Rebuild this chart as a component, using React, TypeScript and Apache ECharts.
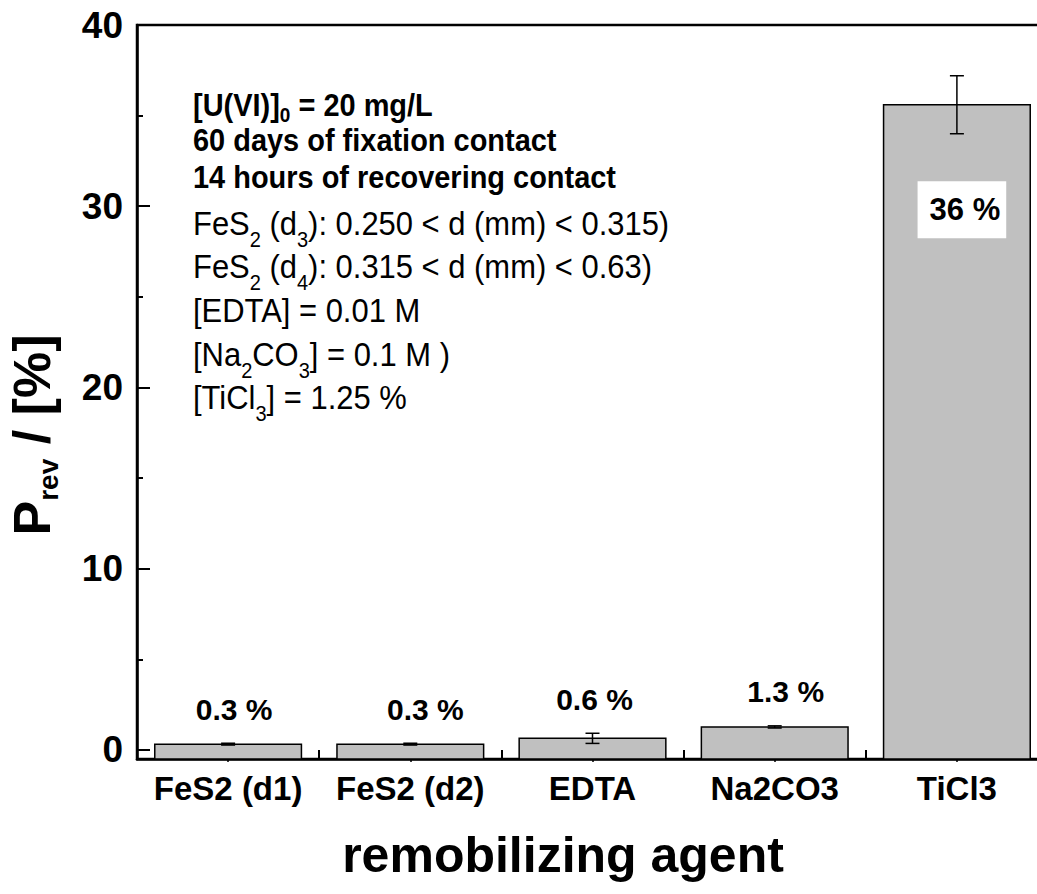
import React, { useEffect, useRef } from 'react';
import * as echarts from 'echarts';

// ---- data ----
const categories = ['FeS2 (d1)', 'FeS2 (d2)', 'EDTA', 'Na2CO3', 'TiCl3'];
const values = [0.32, 0.32, 0.64, 1.27, 35.6];
const errors = [0.05, 0.05, 0.28, 0.06, 1.6];
const yTickValues = [0, 10, 20, 30, 40];
const yMinorTickValues = [5, 15, 25, 35];
const yMin = -0.5;
const yMax = 40;
const xTitle = 'remobilizing agent';
const annotationBold = [
  '{b|[U(VI)]}{bs|0}{b| = 20 mg/L}',
  '{b|60 days of fixation contact}',
  '{b|14 hours of recovering contact}',
];
const annotationNormal = [
  '{n|FeS}{ns|2}{n| (d}{ns|3}{n|): 0.250 < d (mm) < 0.315)}',
  '{n|FeS}{ns|2}{n| (d}{ns|4}{n|): 0.315 < d (mm) < 0.63)}',
  '{n|[EDTA] = 0.01 M}',
  '{n|[Na}{ns|2}{n|CO}{ns|3}{n|] = 0.1 M )}',
  '{n|[TiCl}{ns|3}{n|] = 1.25 %}',
];

// ---- styles / layout ----
const FONT = 'Liberation Sans, Arial, Helvetica, sans-serif';
const labelNudge = [6, 15, 2, 11, 6];
const boldLineY = [104, 139, 176];
const normalLineY = [223, 266, 310, 354, 397];

export default function App() {
  const ref = useRef<HTMLDivElement>(null);

  useEffect(() => {
    const chart = echarts.init(ref.current as HTMLDivElement, null, { renderer: 'svg' });
    const data = categories.map((_, i) => [i, values[i], errors[i]]);

    const renderItem = (params: any, api: any) => {
      const i = api.value(0);
      const v = api.value(1);
      const e = api.value(2);
      const cs = params.coordSys;
      const baseY = cs.y + cs.height;
      const top = api.coord([i, v]);
      const cx = top[0];
      const bw = api.size([1, 0])[0] * 0.805;
      const hi = api.coord([i, v + e])[1];
      const lo = api.coord([i, v - e])[1];
      const cap = 7;
      const big = v >= 10;
      const txt = (big ? v.toFixed(0) : v.toFixed(1)) + ' %';
      const children: any[] = [
        {
          type: 'rect',
          shape: { x: cx - bw / 2, y: top[1], width: bw, height: baseY - top[1] },
          style: { fill: '#c0c0c0', stroke: '#000', lineWidth: 1.5 },
        },
        {
          type: 'line',
          shape: { x1: cx, y1: hi, x2: cx, y2: lo },
          style: { stroke: '#000', lineWidth: 1.5 },
        },
        {
          type: 'line',
          shape: { x1: cx - cap, y1: hi, x2: cx + cap, y2: hi },
          style: { stroke: '#000', lineWidth: 1.5 },
        },
        {
          type: 'line',
          shape: { x1: cx - cap, y1: lo, x2: cx + cap, y2: lo },
          style: { stroke: '#000', lineWidth: 1.5 },
        },
      ];
      if (big) {
        children.push({
          type: 'text',
          x: cx + 5,
          y: top[1] + 105,
          style: {
            text: txt,
            fontSize: 31,
            fontWeight: 'bold',
            fontFamily: FONT,
            fill: '#000',
            align: 'center',
            verticalAlign: 'middle',
            backgroundColor: '#fff',
            padding: [13, 6, 13, 12],
          },
        });
      } else {
        children.push({
          type: 'text',
          x: cx + labelNudge[params.dataIndex],
          y: hi - 34,
          style: {
            text: txt,
            fontSize: 30,
            fontWeight: 'bold',
            fontFamily: FONT,
            fill: '#000',
            align: 'center',
            verticalAlign: 'middle',
          },
        });
      }
      return { type: 'group', children };
    };

    const boldRich = {
      b: { fontSize: 32, fontWeight: 'bold', fontFamily: FONT, fill: '#000', lineHeight: 36, verticalAlign: 'middle' },
      bs: { fontSize: 21, fontWeight: 'bold', fontFamily: FONT, fill: '#000', lineHeight: 36, verticalAlign: 'middle', padding: [22, 0, 0, 0] },
    };
    const normalRich = {
      n: { fontSize: 34, fontFamily: FONT, fill: '#000', lineHeight: 38, verticalAlign: 'middle' },
      ns: { fontSize: 22, fontFamily: FONT, fill: '#000', lineHeight: 38, verticalAlign: 'middle', padding: [32, 0, 0, 0] },
    };

    const graphic: any[] = [
      ...annotationBold.map((t, k) => ({
        type: 'text',
        x: 193,
        y: boldLineY[k],
        scaleX: 0.905,
        style: { text: t, rich: boldRich, align: 'left', verticalAlign: 'middle', fill: '#000' },
      })),
      ...annotationNormal.map((t, k) => ({
        type: 'text',
        x: 193,
        y: normalLineY[k],
        scaleX: 0.91,
        style: { text: t, rich: normalRich, align: 'left', verticalAlign: 'middle', fill: '#000' },
      })),
      {
        type: 'text',
        x: 563,
        y: 855,
        style: {
          text: xTitle,
          fontSize: 50,
          fontWeight: 'bold',
          fontFamily: FONT,
          fill: '#000',
          align: 'center',
          verticalAlign: 'middle',
        },
      },
      {
        type: 'text',
        x: 31.5,
        y: 435,
        rotation: Math.PI / 2,
        style: {
          text: '{p|P}{s|rev}{p| / [%]}',
          rich: {
            p: { fontSize: 52, fontWeight: 'bold', fontFamily: FONT, fill: '#000', lineHeight: 56, verticalAlign: 'middle' },
            s: { fontSize: 28, fontWeight: 'bold', fontFamily: FONT, fill: '#000', lineHeight: 56, verticalAlign: 'middle', padding: [33, 0, 0, 0] },
          },
          align: 'center',
          verticalAlign: 'middle',
          fill: '#000',
        },
      },
    ];

    const option: any = {
      animation: false,
      backgroundColor: '#fff',
      grid: {
        left: 137,
        top: 25,
        right: 12,
        bottom: 135,
        show: true,
        borderColor: '#000',
        borderWidth: 2.5,
        backgroundColor: 'transparent',
      },
      xAxis: [
        {
          type: 'category',
          data: categories,
          boundaryGap: true,
          axisLine: { show: true, onZero: false, lineStyle: { color: '#000', width: 2.5 } },
          axisTick: { show: true, inside: true, length: 9, lineStyle: { color: '#000', width: 2 } },
          axisLabel: {
            interval: 0,
            hideOverlap: false,
            fontSize: 33,
            fontWeight: 'bold',
            color: '#000',
            fontFamily: FONT,
            margin: 13,
          },
          splitLine: { show: false },
        },
        {
          type: 'category',
          data: categories,
          position: 'bottom',
          axisLine: { show: false, onZero: false },
          axisTick: { show: true, alignWithLabel: true, length: 3, lineStyle: { color: '#000', width: 1.5 } },
          axisLabel: { show: false },
          splitLine: { show: false },
        },
      ],
      yAxis: [
        {
          type: 'value',
          min: yMin,
          max: yMax,
          position: 'left',
          axisLine: { show: true, onZero: false, lineStyle: { color: '#000', width: 2.5 } },
          axisTick: { show: true, inside: true, length: 13, customValues: yTickValues, lineStyle: { color: '#000', width: 2 } },
          axisLabel: { customValues: yTickValues, fontSize: 37, fontWeight: 'bold', color: '#000', fontFamily: FONT, margin: 14 },
          splitLine: { show: false },
        },
        {
          type: 'value',
          min: yMin,
          max: yMax,
          position: 'left',
          axisLine: { show: false, onZero: false },
          axisTick: { show: true, inside: true, length: 6, customValues: yMinorTickValues, lineStyle: { color: '#000', width: 2 } },
          axisLabel: { show: false },
          splitLine: { show: false },
        },
      ],
      series: [
        {
          type: 'custom',
          renderItem,
          data,
          encode: { x: 0, y: 1 },
          xAxisIndex: 0,
          yAxisIndex: 0,
          clip: false,
        },
      ],
      graphic,
    };

    chart.setOption(option);
    return () => chart.dispose();
  }, []);

  return (
    <div
      style={{
        position: 'fixed',
        left: 0,
        top: 0,
        width: 1037,
        height: 894,
        overflow: 'hidden',
        background: '#fff',
      }}
    >
      <div ref={ref} style={{ width: 1060, height: 894 }} />
    </div>
  );
}
